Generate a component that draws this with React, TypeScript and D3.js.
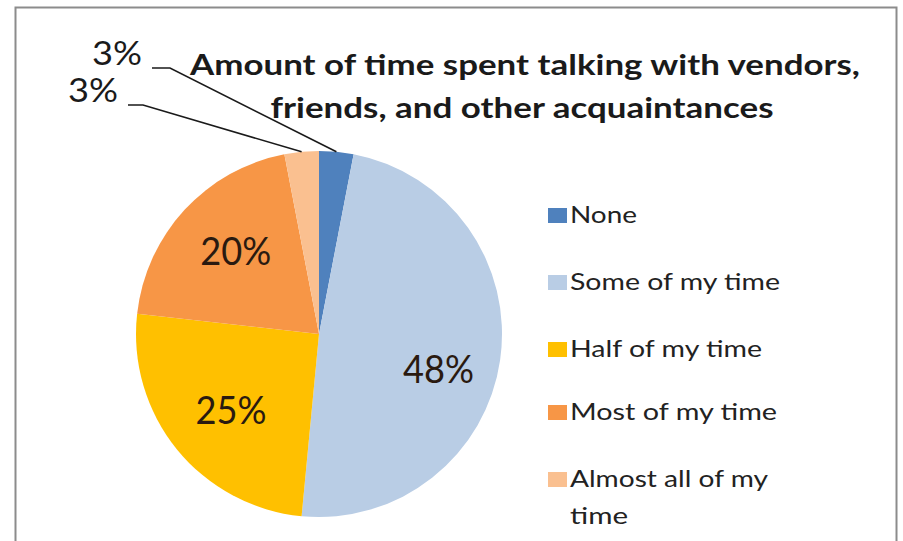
import React from "react";
import * as d3 from "d3";

const categories = ["None", "Some of my time", "Half of my time", "Most of my time", "Almost all of my time"];
const values = [3, 48, 25, 20, 3];
const colors = ["#4f81bd", "#b9cde5", "#ffc000", "#f79646", "#fac090"];
const titleLines = ["Amount of time spent talking with vendors,", "friends, and other acquaintances"];

const W = 903, H = 541;
const cx = 319, cy = 334, R = 183;

export default function App() {
  const pie = d3.pie<number>().sort(null).value((d) => d)(values);
  const arc = d3.arc<d3.PieArcDatum<number>>().innerRadius(0).outerRadius(R);
  const font = "Lato, 'Open Sans', sans-serif";

  const insideFactor = [0, 0.66, 0.62, 0.62, 0];
  const insideDy = [0, 32, 18, 8, 0];
  const leaderAnchor = [[152, 68, 170], [128, 105, 143]];
  const leaderIdx = [0, 4];
  const leaderLabelX = [117, 93];
  const leaderLabelY = [65, 102];
  const legendSquareY = [208, 275, 342, 405, 472];
  const legendLines = [["None"], ["Some of my time"], ["Half of my time"], ["Most of my time"], ["Almost all of my", "time"]];
  const legendBase = [[223], [290], [357], [420], [487, 524]];
  const legendLen = [[67], [210], [192], [207], [198, 58]];

  return (
    <svg width={W} height={H} style={{ position: "absolute", left: 0, top: 0, background: "#fff" }}>
      <rect x={0} y={0} width={W} height={H} fill="#fff" />
      <rect x={15.5} y={7.5} width={881} height={560} fill="#fff" stroke="#8c8c8c" strokeWidth={2} />
      <g transform={`translate(${cx},${cy})`}>
        {pie.map((p, i) => (
          <path key={i} d={arc(p) || ""} fill={colors[i]} />
        ))}
      </g>
      {pie.map((p, i) => {
        if (insideFactor[i] === 0) return null;
        const f = insideFactor[i];
        const mid = (p.startAngle + p.endAngle) / 2;
        return (
          <text key={i} x={cx + Math.sin(mid) * R * f} y={cy - Math.cos(mid) * R * f + insideDy[i]} textAnchor="middle"
            fontFamily={font} fontSize={38} fill="#2a1a10" textLength={71} lengthAdjust="spacingAndGlyphs">
            {Math.round(values[i])}%
          </text>
        );
      })}
      {leaderIdx.map((idx, k) => {
        const p = pie[idx];
        const mid = (p.startAngle + p.endAngle) / 2;
        const ex = cx + Math.sin(mid) * R;
        const ey = cy - Math.cos(mid) * R;
        const [lx, ly, bx] = leaderAnchor[k];
        return (
          <g key={idx}>
            <polyline points={`${lx},${ly} ${bx},${ly} ${ex},${ey}`} fill="none" stroke="#1a1a1a" strokeWidth={1.6} />
            <text x={leaderLabelX[k]} y={leaderLabelY[k]} textAnchor="middle" fontFamily={font} fontSize={33}
              fill="#1a1a1a" textLength={50} lengthAdjust="spacingAndGlyphs">
              {Math.round(values[idx])}%
            </text>
          </g>
        );
      })}
      {titleLines.map((t, i) => (
        <text key={i} x={i === 0 ? 525 : 522} y={i === 0 ? 75 : 118} textAnchor="middle" fontFamily={font}
          fontSize={28} fontWeight={700} fill="#1a1a1a" textLength={i === 0 ? 670 : 503} lengthAdjust="spacingAndGlyphs">
          {t}
        </text>
      ))}
      {categories.map((c, i) => (
        <g key={c}>
          <rect x={548} y={legendSquareY[i]} width={19} height={15} fill={colors[i]} />
          {legendLines[i].map((ln, j) => (
            <text key={j} x={570} y={legendBase[i][j]} fontFamily={font} fontSize={24} fill="#222"
              textLength={legendLen[i][j]} lengthAdjust="spacingAndGlyphs">
              {ln}
            </text>
          ))}
        </g>
      ))}
    </svg>
  );
}
